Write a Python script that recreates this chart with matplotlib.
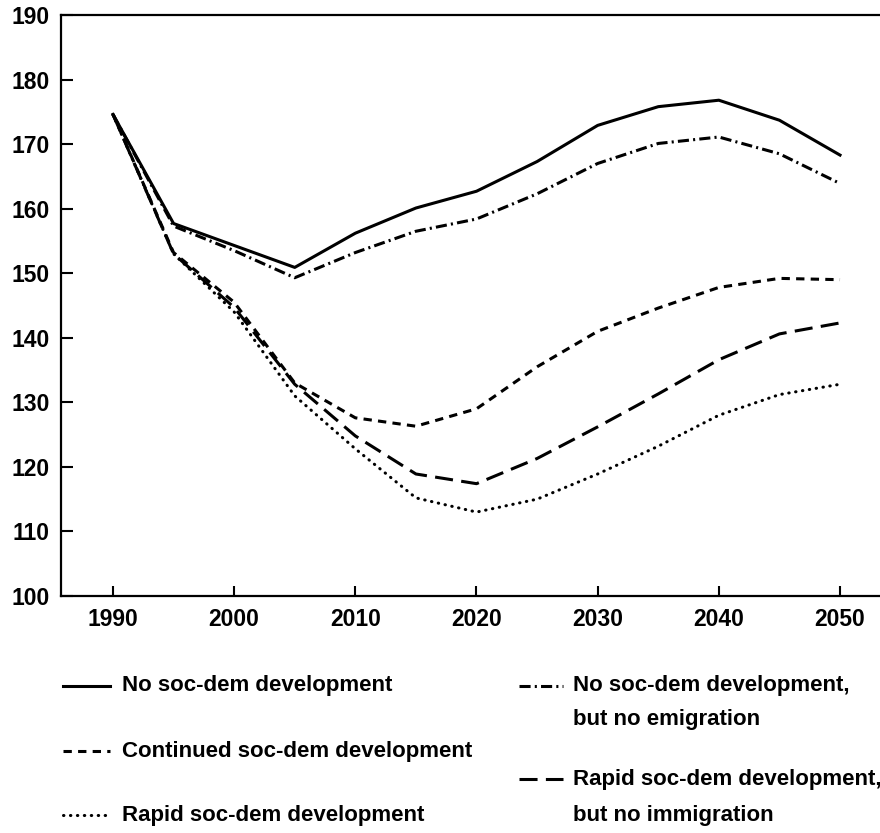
import matplotlib
matplotlib.use("Agg")
import matplotlib.pyplot as plt
from matplotlib.lines import Line2D

# Данные
years = [1990, 1995, 2000, 2005, 2010, 2015, 2020, 2025, 2030, 2035, 2040, 2045, 2050]
no_dev = [174.6, 157.7, 154.3, 150.9, 156.2, 160.1, 162.7, 167.3, 172.9, 175.8, 176.8, 173.7, 168.3]
no_dev_no_emig = [174.6, 157.3, 153.5, 149.3, 153.2, 156.5, 158.4, 162.3, 167.0, 170.1, 171.1, 168.5, 163.9]
continued = [174.6, 153.2, 145.5, 133.0, 127.6, 126.3, 129.0, 135.5, 141.0, 144.6, 147.8, 149.2, 149.0]
rapid_no_imm = [174.6, 153.0, 144.7, 132.8, 124.8, 118.9, 117.4, 121.3, 126.2, 131.3, 136.6, 140.6, 142.3]
rapid = [174.6, 153.0, 144.0, 131.0, 122.8, 115.2, 113.0, 115.0, 118.9, 123.2, 128.0, 131.2, 132.8]

x_ticks = [1990, 2000, 2010, 2020, 2030, 2040, 2050]
y_ticks = [100, 110, 120, 130, 140, 150, 160, 170, 180, 190]

labels = {
    "no_dev": "No soc-dem development",
    "continued": "Continued soc-dem development",
    "rapid": "Rapid soc-dem development",
    "no_emig": "No soc-dem development,\nbut no emigration",
    "rapid_no_imm": "Rapid soc-dem development,\nbut no immigration",
}

plt.rcParams["font.family"] = ["Liberation Sans", "DejaVu Sans"]
plt.rcParams["font.weight"] = "bold"
plt.rcParams["lines.scale_dashes"] = False

W, H = 880, 833
fig = plt.figure(figsize=(W / 100, H / 100), dpi=100)
ax = fig.add_axes([61 / W, 1 - 596 / H, 1 - 61 / W, (596 - 15) / H])

LW = 2.2
styles = {
    "no_dev": dict(linestyle="-"),
    "no_emig": dict(linestyle=(0, (8, 3, 1.5, 3))),
    "continued": dict(linestyle=(0, (6, 4.5))),
    "rapid_no_imm": dict(linestyle=(0, (13, 6))),
    "rapid": dict(linestyle=(0, (0.3, 4.7)), dash_capstyle="round"),
}
series = {
    "no_dev": no_dev,
    "no_emig": no_dev_no_emig,
    "continued": continued,
    "rapid_no_imm": rapid_no_imm,
    "rapid": rapid,
}

for key, vals in series.items():
    ax.plot(years, vals, color="black", lw=LW, **styles[key])

ax.set_xlim(1985.71, 2053.3)
ax.set_ylim(100, 190)
ax.set_xticks(x_ticks)
ax.set_yticks(y_ticks)
ax.tick_params(axis="both", direction="in", width=1.5, labelsize=16.5)
ax.tick_params(axis="y", length=8.5, pad=8)
ax.tick_params(axis="x", length=7, pad=8.5)
for lab in ax.get_xticklabels() + ax.get_yticklabels():
    lab.set_fontweight("bold")
ax.spines["right"].set_visible(False)
for s in ["left", "bottom", "top"]:
    ax.spines[s].set_linewidth(1.6)

# Легенда вручную (два столбца)
def legend_entry(key, x0, x1, xt, y_rows):
    y = 1 - y_rows[0] / H
    fig.add_artist(Line2D([x0 / W, x1 / W], [y, y], color="black", lw=LW,
                          transform=fig.transFigure, **styles[key]))
    for i, line in enumerate(labels[key].split("\n")):
        fig.text(xt / W, 1 - y_rows[i] / H, line, fontsize=16, fontweight="bold",
                 va="center", ha="left")

legend_entry("no_dev", 63, 110, 122, [686])
legend_entry("continued", 63, 110, 122, [751])
legend_entry("rapid", 63, 110, 122, [815])
legend_entry("no_emig", 519, 563, 573, [686, 720])
legend_entry("rapid_no_imm", 519, 563, 573, [779, 815])

fig.savefig("out.png", dpi=100)
